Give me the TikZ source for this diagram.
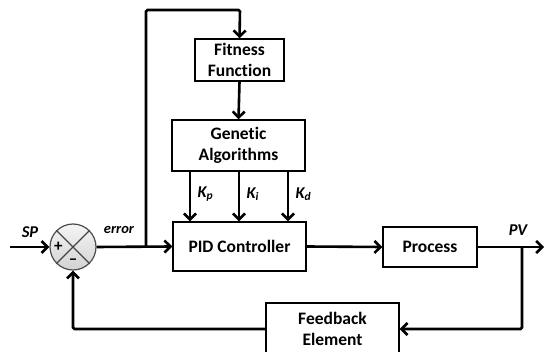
\documentclass[tikz,border=0pt]{standalone}
\usepackage{fontspec}
\setmainfont{Carlito}[Ligatures=NoCommon]
\usetikzlibrary{arrows.meta,positioning}

\begin{document}
\begin{tikzpicture}[x=1pt,y=-1pt,>={Straight Barb[length=6pt,width=12pt]},
        line width=2.6pt,rounded corners=1.5pt,
        block/.style={draw,line width=1.4pt,sharp corners,align=center,font=\fontsize{17.5}{20.5}\selectfont\bfseries,inner sep=0pt},
        lbl/.style={font=\fontsize{16.5}{18}\selectfont\bfseries\itshape}]

        \useasboundingbox (0,0) rectangle (544,352);

        % blocks
        \node[block,minimum width=89pt,minimum height=42pt] (fit) at (239.5,60) {Fitness\\Function};
        \node[block,minimum width=133pt,minimum height=51pt] (ga) at (238.5,145.5) {Genetic\\Algorithms};
        \node[block,minimum width=133pt,minimum height=49pt] (pid) at (239.5,246.5) {PID Controller};
        \node[block,minimum width=94pt,minimum height=40pt] (proc) at (430,247) {Process};
        \node[block,minimum width=133pt,minimum height=52pt] (fb) at (332.5,329) {Feedback\\Element};

        % summing junction
        \node[circle,draw=gray!60!black,line width=1.2pt,minimum size=46pt,inner sep=0pt,
          top color=gray!8,bottom color=gray!35] (sum) at (73,247) {};
        \draw[gray!55!black,line width=1.2pt] (sum.north west) -- (sum.south east)
          (sum.north east) -- (sum.south west);
        \node[font=\fontsize{17}{17}\selectfont\bfseries] (plus) at ([xshift=9pt]sum.west) {+};
        \node[font=\fontsize{17}{17}\selectfont\bfseries] (minus) at ([yshift=9pt]sum.south) {--};

        \coordinate (in) at (10,247);
        \coordinate (out) at (544,247);
        \coordinate (e) at (146,247);
        \coordinate (v) at (522,247);

        % connectors
        \draw[->] (in) -- (sum.west);
        \draw[->] (sum.east) -- (pid.west);
        \draw[->] (e) |- (240,10) -- (fit.north);
        \draw[->] (fit.south) -- (ga.north);
        \draw[->] (ga.south -| 190,0) -- (pid.north -| 190,0) node[lbl,pos=0.45,right=3pt] {K\textsubscript{p}};
        \draw[->] (ga.south -| 239,0) -- (pid.north -| 239,0) node[lbl,pos=0.45,right=3pt] {K\textsubscript{i}};
        \draw[->] (ga.south -| 288,0) -- (pid.north -| 288,0) node[lbl,pos=0.45,right=3pt] {K\textsubscript{d}};
        \draw[->] (pid.east) -- (proc.west);
        \draw[->] (proc.east) -- (out);
        \draw[->] (v) |- (fb.east);
        \draw[->] (fb.west) -| (sum.south);

        % signal labels
        \node[lbl] (sp) at (30,232) {SP};
        \node[lbl,font=\fontsize{14.5}{16}\selectfont\bfseries\itshape] (err) at (119,230) {error};
        \node[lbl] (pv) at (518,230) {PV};
      \end{tikzpicture}
\end{document}
